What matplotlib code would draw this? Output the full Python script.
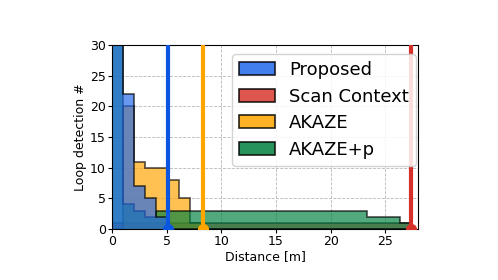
import numpy as np
import matplotlib
matplotlib.use('Agg')
import matplotlib.pyplot as plt
from matplotlib.patches import Patch

# Histogram bin edges [m]
bin_edges = np.linspace(0, 27.4, 28)

# Counts per bin (values above 30 are clipped)
proposed_counts = [45, 22, 7, 5, 2, 0, 0, 0, 0, 0, 0, 0, 0, 0, 0, 0, 0, 0, 0, 0, 0, 0, 0, 0, 0, 0, 0]
scan_context_counts = [1, 1, 1, 1, 1, 1, 1, 1, 1, 1, 1, 1, 1, 1, 1, 1, 1, 1, 1, 1, 1, 1, 1, 1, 1, 1, 1]
akaze_counts = [0, 20, 11, 10, 10, 8, 5, 1, 0, 0, 0, 0, 0, 0, 0, 0, 0, 0, 0, 0, 0, 0, 0, 0, 0, 0, 0]
akaze_p_counts = [40, 4, 3, 2, 3, 3, 3, 3, 3, 3, 3, 3, 3, 3, 3, 3, 3, 3, 3, 3, 3, 3, 3, 2, 2, 2, 1]

# Marker lines (distance) per method
proposed_line = 5.1
akaze_line = 8.3
scan_context_line = 27.35

labels = ["Proposed", "Scan Context", "AKAZE", "AKAZE+p"]
colors = {"Proposed": "#2268ea", "Scan Context": "#d83a30",
          "AKAZE": "#ffa500", "AKAZE+p": "#008040"}
line_colors = {"Proposed": "#0a56e0", "Scan Context": "#d5302a", "AKAZE": "#ffa500"}
FILL_ALPHA = 0.68
LEG_ALPHA = 0.85

fig = plt.figure(figsize=(4.98, 2.80), dpi=100)
ax = fig.add_axes([112 / 498, 1 - 229 / 280, 306 / 498, 184 / 280])

ax.grid(True, color="#b8b8b8", linestyle="--", linewidth=0.6, zorder=0)
ax.set_axisbelow(True)

# draw order: Scan Context, AKAZE, AKAZE+p, Proposed
for name, counts in [("Scan Context", scan_context_counts),
                     ("AKAZE", akaze_counts),
                     ("AKAZE+p", akaze_p_counts),
                     ("Proposed", proposed_counts)]:
    ax.stairs(counts, bin_edges, fill=True, facecolor=colors[name],
              edgecolor="black", linewidth=1.2, alpha=FILL_ALPHA, zorder=2)

for name, xv in [("Proposed", proposed_line), ("AKAZE", akaze_line),
                 ("Scan Context", scan_context_line)]:
    ax.plot([xv, xv], [0, 30], color=line_colors[name], linewidth=3.0, zorder=3)
    ax.plot([xv], [0], marker="o", markersize=7, color=line_colors[name], zorder=3)

ax.set_xlim(0, 28)
ax.set_ylim(0, 30)
ax.set_xticks([0, 5, 10, 15, 20, 25])
ax.set_yticks([0, 5, 10, 15, 20, 25, 30])
ax.tick_params(labelsize=9, length=3, pad=1.5)
ax.set_xlabel("Distance [m]", fontsize=9, labelpad=1)
ax.set_ylabel("Loop detection #", fontsize=9, labelpad=2)

handles = [Patch(facecolor=colors[n], edgecolor="black", alpha=LEG_ALPHA, linewidth=1.2) for n in labels]
ax.legend(handles, labels, loc="upper right", bbox_to_anchor=(0.993, 0.951),
          borderaxespad=0, fontsize=13, handlelength=2.0, handleheight=0.72,
          labelspacing=0.47, handletextpad=0.75, borderpad=0.4, framealpha=0.85)

fig.savefig("out.png", dpi=100)
